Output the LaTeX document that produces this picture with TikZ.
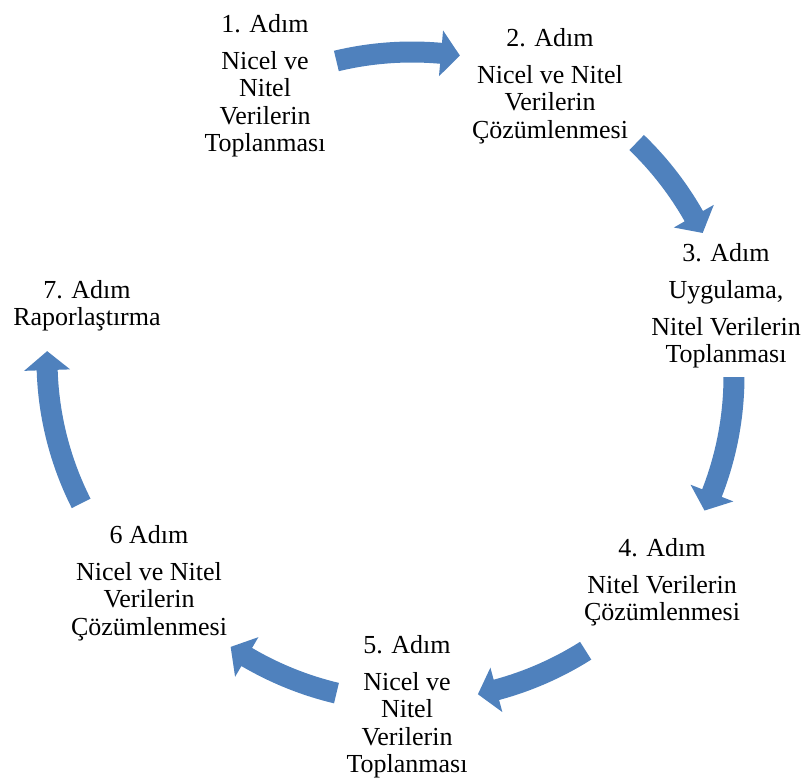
\documentclass[tikz,border=0pt]{standalone}
\usepackage{fontspec}
\setmainfont{Liberation Serif}
\definecolor{cycleblue}{HTML}{4F81BD}

% Curved block arrow around centre (#1,#2), radius #3,
% running clockwise from angle #4 to its tip at angle #5.
\newcommand\cyclearrow[5]{%
  \pgfmathsetmacro\cabase{#5+19/#3*57.2958}%
  \begin{scope}[shift={(#1,-#2)}]
    \fill[cycleblue] (#4:{#3+10.5})
      arc[start angle=#4, end angle=\cabase, radius=#3+10.5]
      -- (\cabase:{#3+23}) -- (#5:#3) -- (\cabase:{#3-23})
      -- (\cabase:{#3-10.5})
      arc[start angle=\cabase, end angle=#4, radius=#3-10.5] -- cycle;
  \end{scope}}

\tikzset{
  steptext/.style={align=center, inner sep=0pt, anchor=north,
    font=\fontsize{26}{27.5}\selectfont}
}

\begin{document}
\begin{tikzpicture}[x=1pt, y=1pt]
  \useasboundingbox (0,0) rectangle (809,-780);

  % step texts
  \node[steptext] (s1) at (265,-14) {1. Adım\\[9.5pt]Nicel ve\\Nitel\\Verilerin\\Toplanması};
  \node[steptext] (s2) at (550,-28) {2. Adım\\[9.5pt]Nicel ve Nitel\\Verilerin\\Çözümlenmesi};
  \node[steptext] (s3) at (726,-243) {3. Adım\\[9.5pt]Uygulama,\\[9.5pt]Nitel Verilerin\\Toplanması};
  \node[steptext] (s4) at (662,-538) {4. Adım\\[9.5pt]Nitel Verilerin\\Çözümlenmesi};
  \node[steptext] (s5) at (407,-635) {5. Adım\\[9.5pt]Nicel ve\\Nitel\\Verilerin\\Toplanması};
  \node[steptext] (s6) at (149,-525) {6 Adım\\[9.5pt]Nicel ve Nitel\\Verilerin\\Çözümlenmesi};
  \node[steptext] (s7) at (87,-280) {7. Adım\\Raporlaştırma};

  % cycle arrows
  \cyclearrow{412}{376}{324}{103.5}{81.5}
  \cyclearrow{412}{376}{324}{46.1}{26.2}
  \cyclearrow{412}{376}{322}{-0.2}{-24.7}
  \cyclearrow{412}{376}{325}{-57.7}{-78.3}
  \cyclearrow{412}{376}{326}{-103.4}{-123.8}
  \cyclearrow{365}{360}{318}{206.8}{178.4}
\end{tikzpicture}
\end{document}
